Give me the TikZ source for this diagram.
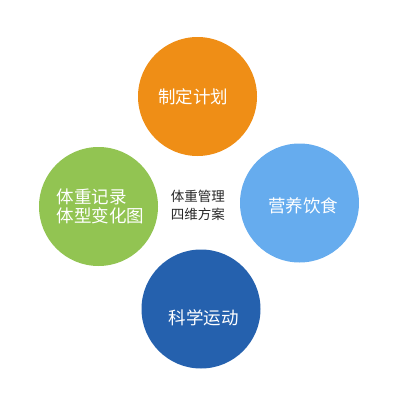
\documentclass[tikz,border=0pt]{standalone}
\usepackage{fontspec}
\newfontfamily\cjk{Noto Sans CJK SC}
\begin{document}
\begin{tikzpicture}[x=1pt,y=-1pt,
  disc/.style={circle,minimum size=119pt,inner sep=0pt},
  lbl/.style={text=white,font=\cjk\fontsize{17.5}{19}\selectfont,inner sep=0pt,align=left},
  ctr/.style={text=black!85,font=\cjk\fontsize{13.5}{18}\selectfont,inner sep=0pt,align=left}]
\useasboundingbox (0,0) rectangle (400,400);
\definecolor{corange}{HTML}{EF8E16}
\definecolor{clblue}{HTML}{66ACEE}
\definecolor{cgreen}{HTML}{92C452}
\definecolor{cdblue}{HTML}{2561AE}
\node[disc,fill=corange] (plan) at (197.5,96.5) {};
\node[disc,fill=clblue] (food) at (299.5,203) {};
\node[disc,fill=cgreen] (rec) at (98.5,206.5) {};
\node[disc,fill=cdblue] (sport) at (201,309) {};
\node[lbl] (tplan) at (193,97) {制定计划};
\node[lbl] (tfood) at (303.5,206) {营养饮食};
\node[lbl] (trec) at (100.5,206.5) {体重记录\\体型变化图};
\node[lbl] (tsport) at (203.5,318) {科学运动};
\node[ctr] (center) at (198,205) {体重管理\\四维方案};
\end{tikzpicture}
\end{document}
